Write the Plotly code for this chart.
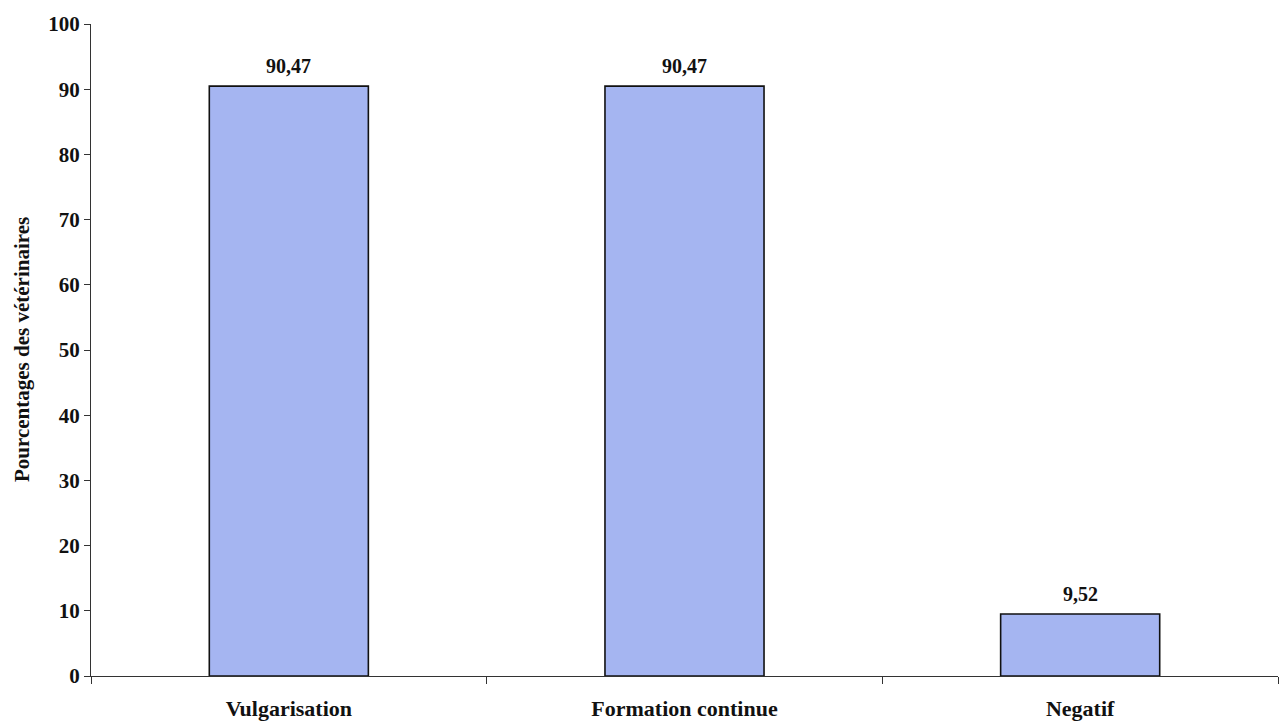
import plotly.graph_objects as go

# Survey results: share of veterinarians per answer
categories = ["Vulgarisation", "Formation continue", "Negatif"]
percentages = [90.47, 90.47, 9.52]
y_ticks = list(range(0, 101, 10))

labels = [f"{v:.2f}".replace(".", ",") for v in percentages]

serif = "Liberation Serif, Times New Roman, serif"

fig = go.Figure(
    go.Bar(
        x=categories,
        y=percentages,
        width=0.402,
        marker=dict(color="#A5B5F1", line=dict(color="#111", width=1.6)),
        hoverinfo="x+y",
    )
)

# value labels above each bar
for cat, val, lab in zip(categories, percentages, labels):
    fig.add_annotation(
        x=cat,
        y=val,
        text=lab,
        showarrow=False,
        yanchor="bottom",
        yshift=7,
        font=dict(family=serif, size=20, color="#111", weight="bold"),
    )

# vertical axis title, placed just left of the tick labels
fig.add_annotation(
    xref="paper",
    yref="paper",
    x=0,
    y=0.5,
    xshift=-69,
    xanchor="center",
    yanchor="middle",
    textangle=-90,
    text="Pourcentages des vétérinaires",
    showarrow=False,
    font=dict(family=serif, size=21, color="#111", weight="bold"),
)

fig.update_layout(
    width=1287,
    height=722,
    margin=dict(l=91, r=9, t=24, b=46),
    paper_bgcolor="white",
    plot_bgcolor="white",
    showlegend=False,
    font=dict(family=serif, color="#111"),
    xaxis=dict(
        type="category",
        range=[-0.5, 2.5],
        automargin=False,
        tickson="boundaries",
        ticks="outside",
        ticklen=7,
        tickcolor="#333",
        showline=True,
        linecolor="#333",
        linewidth=1,
        showgrid=False,
        ticklabelstandoff=13,
        tickfont=dict(family=serif, size=22, color="#111", weight="bold"),
    ),
    yaxis=dict(
        range=[0, 100],
        tickvals=y_ticks,
        automargin=False,
        ticks="outside",
        ticklen=6,
        tickcolor="#333",
        showline=True,
        linecolor="#333",
        linewidth=1,
        showgrid=False,
        zeroline=False,
        tickfont=dict(family=serif, size=21, color="#111", weight="bold"),
    ),
)

fig.write_html("out.html")
